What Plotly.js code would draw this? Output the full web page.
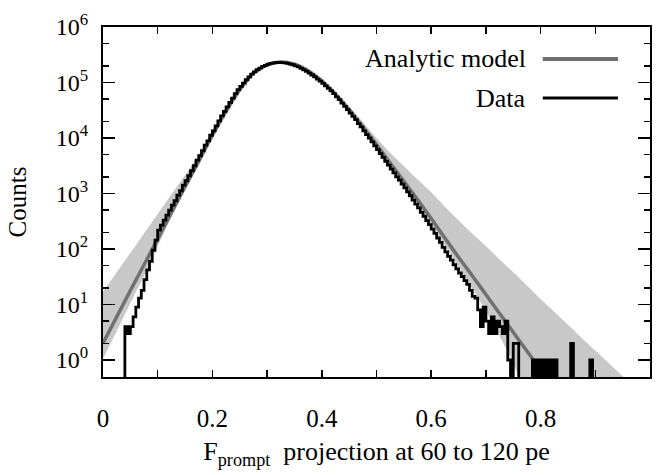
<!DOCTYPE html>
<html><head><meta charset="utf-8">
<script src="https://cdn.plot.ly/plotly-3.0.1.min.js"></script>
<style>html,body{margin:0;padding:0;background:#fff}</style>
</head><body>
<div id="chart" style="width:656px;height:475px"></div>
<script>
// ---- Histogram data (bin width 0.005, first bin starts at 0.040) ----
const binStart = 0.040;
const binWidth = 0.005;
const dataCounts = [
  4,3,4,6,9,13,18,28,42,60,95,145,
  219,269,331,407,501,617,741,933,1122,1413,1698,2089,2570,3162,3981,4786,5888,7413,8913,11220,
  13490,16600,20420,25120,30200,36310,43650,52480,63100,74130,85110,97720,112200,125900,141300,154900,
  169800,182000,195000,204200,213800,221300,226500,229100,229500,228800,226500,221300,213800,208900,
  199500,190500,179900,169800,158500,147900,136500,125900,114800,105900,96600,87100,78500,70800,63100,
  55000,49000,42660,37150,32360,28180,24550,21380,18200,15850,13490,11480,10000,8510,7244,
  6166,5248,4467,3802,3236,2754,2344,1995,1738,1479,1259,1072,912,759,646,550,457,389,324,275,
  229,191,158,132,107,89,74,63,52,44,37,32,27,23,18,14,13,8,4,9,
  5,3,6,3,5,4,3,5,1,0,2,2,0,0,0,0,0,1,0,1,0,1,0,1,0,1,0,0,0,0,0,2,0,0,0,0,0,0,1,0
];

// ---- Analytic model ----
const modelX = [0,0.025,0.05,0.075,0.1,0.125,0.15,0.175,0.2,0.225,0.25,0.275,0.3,0.325,0.35,0.375,0.4,0.425,0.45,0.475,0.5,0.525,0.55,0.575,0.6,0.625,0.65,0.675,0.7,0.725,0.75,0.775,0.8,0.825];
const modelCounts = [2.0,6.0,17.8,52,151,447,1318,3802,11220,30200,74130,147900,208900,234400,213800,162200,107200,61660,32360,15850,7586,3548,1660,776,355,158,70.8,33.1,15.1,6.9,3.16,1.45,0.66,0.30];

// ---- Model uncertainty band ----
const bandUpperX = [0,0.025,0.05,0.075,0.1,0.125,0.15,0.175,0.2,0.225,0.25,0.275,0.3,0.325,0.35,0.375,0.4,0.425,0.45,0.475,0.5,0.525,0.55,0.575,0.6,0.625,0.65,0.675,0.7,0.725,0.75,0.775,0.8,0.825,0.85,0.875,0.9,0.925,0.95,0.975];
const bandUpper = [17,38,85,191,427,955,2138,5012,13800,33110,77620,151400,213800,239900,218800,169800,113000,66000,37000,19500,10000,5400,3100,1800,1050,580,330,190,112,65,38,22,12.6,7.4,4.3,2.5,1.48,0.87,0.51,0.30];
const bandLowerX = [0,0.025,0.05,0.075,0.1,0.125,0.15,0.175,0.2,0.225,0.25,0.275,0.3,0.325,0.35,0.375,0.4,0.425,0.45,0.475,0.5,0.525,0.55,0.575,0.6,0.625,0.65,0.675,0.7,0.725,0.75,0.775];
const bandLower = [1.05,3.3,10.5,33,112,380,1202,3631,10720,29510,72440,144500,204200,229100,208900,158500,102300,58880,30200,14790,6918,3162,1413,631,275,117,48,19.5,7.6,2.7,0.89,0.28];

// ---- Tick labels ----
const xTickVals = [0,0.2,0.4,0.6,0.8,1];
const xTickText = ['0','0.2','0.4','0.6','0.8','1'];
const xMinorVals = [0.1,0.3,0.5,0.7,0.9];
const yTickVals = [1,10,100,1000,10000,100000,1000000];
const yTickText = ['10<sup>0</sup>','10<sup>1</sup>','10<sup>2</sup>','10<sup>3</sup>','10<sup>4</sup>','10<sup>5</sup>','10<sup>6</sup>'];
const yMinorVals = [0.5,2,5,20,50,200,500,2000,5000,20000,50000,200000,500000];

// ---- Build step histogram from bins ----
const FLOOR = 0.01; // zero-count bins drop below the axis
const histX = [binStart - binWidth];
const histY = [FLOOR];
dataCounts.forEach((c, i) => {
  histX.push(+(binStart + i * binWidth).toFixed(4));
  histY.push(c > 0 ? c : FLOOR);
});
histX.push(+(binStart + dataCounts.length * binWidth).toFixed(4));
histY.push(FLOOR);

const bandX = bandUpperX.concat(bandLowerX.slice().reverse());
const bandY = bandUpper.concat(bandLower.slice().reverse());

const FONT = 'Liberation Serif, Times New Roman, serif';

const traces = [
  {x: bandX, y: bandY, type: 'scatter', mode: 'lines', fill: 'toself',
   fillcolor: '#c8c8c8', line: {width: 0, shape: 'spline', smoothing: 0.6}, showlegend: false, hoverinfo: 'skip'},
  {x: modelX, y: modelCounts, type: 'scatter', mode: 'lines', name: 'Analytic model',
   line: {color: '#707070', width: 3.5, shape: 'spline', smoothing: 0.6}, showlegend: false},
  {x: histX, y: histY, type: 'scatter', mode: 'lines', name: 'Data',
   line: {color: '#000000', width: 2.8, shape: 'hv'}, showlegend: false}
];

const layout = {
  width: 656, height: 475,
  margin: {l: 103, r: 6, t: 27, b: 98, pad: 0},
  paper_bgcolor: '#ffffff', plot_bgcolor: '#ffffff',
  font: {family: FONT, size: 25, color: '#000'},
  showlegend: false,
  xaxis: {
    range: [0, 1], tickmode: 'array', tickvals: xTickVals, ticktext: xTickText,
    ticks: 'inside', ticklen: 7, tickwidth: 1.5, tickcolor: '#000',
    minor: {tickmode: 'array', tickvals: xMinorVals, ticks: 'inside', ticklen: 7, tickwidth: 1.5, tickcolor: '#000', showgrid: false},
    showline: true, linecolor: '#000', linewidth: 2, mirror: 'allticks',
    showgrid: false, zeroline: false,
    ticklabelstandoff: 18,
    tickfont: {family: FONT, size: 25, color: '#000'},
    title: {text: 'F<sub>prompt</sub>\u00a0 projection at 60 to 120 pe', font: {family: FONT, size: 26, color: '#000'}, standoff: 11}
  },
  yaxis: {
    type: 'log', range: [-0.306, 6.0], tickmode: 'array', tickvals: yTickVals, ticktext: yTickText,
    ticks: 'inside', ticklen: 12, tickwidth: 1.5, tickcolor: '#000',
    minor: {tickmode: 'array', tickvals: yMinorVals, ticks: 'inside', ticklen: 6, tickwidth: 1.5, tickcolor: '#000', showgrid: false},
    showline: true, linecolor: '#000', linewidth: 2, mirror: 'allticks',
    showgrid: false, zeroline: false,
    ticklabelstandoff: 8,
    tickfont: {family: FONT, size: 24, color: '#000'},
    title: {text: 'Counts', font: {family: FONT, size: 25, color: '#000'}, standoff: 22}
  },
  annotations: [
    {xref: 'paper', yref: 'paper', x: 0.777, y: 0.9086, xanchor: 'right', yanchor: 'middle',
     text: 'Analytic model', showarrow: false, font: {family: FONT, size: 26, color: '#000'}},
    {xref: 'paper', yref: 'paper', x: 0.777, y: 0.797, xanchor: 'right', yanchor: 'middle',
     text: 'Data', showarrow: false, font: {family: FONT, size: 26, color: '#000'}}
  ],
  shapes: [
    {type: 'line', xref: 'paper', yref: 'paper', x0: 0.804, x1: 0.9415, y0: 0.9086, y1: 0.9086,
     line: {color: '#707070', width: 4}},
    {type: 'line', xref: 'paper', yref: 'paper', x0: 0.804, x1: 0.9415, y0: 0.797, y1: 0.797,
     line: {color: '#000000', width: 3}}
  ]
};

Plotly.newPlot('chart', traces, layout, {staticPlot: true, displayModeBar: false});
</script>
</body></html>
